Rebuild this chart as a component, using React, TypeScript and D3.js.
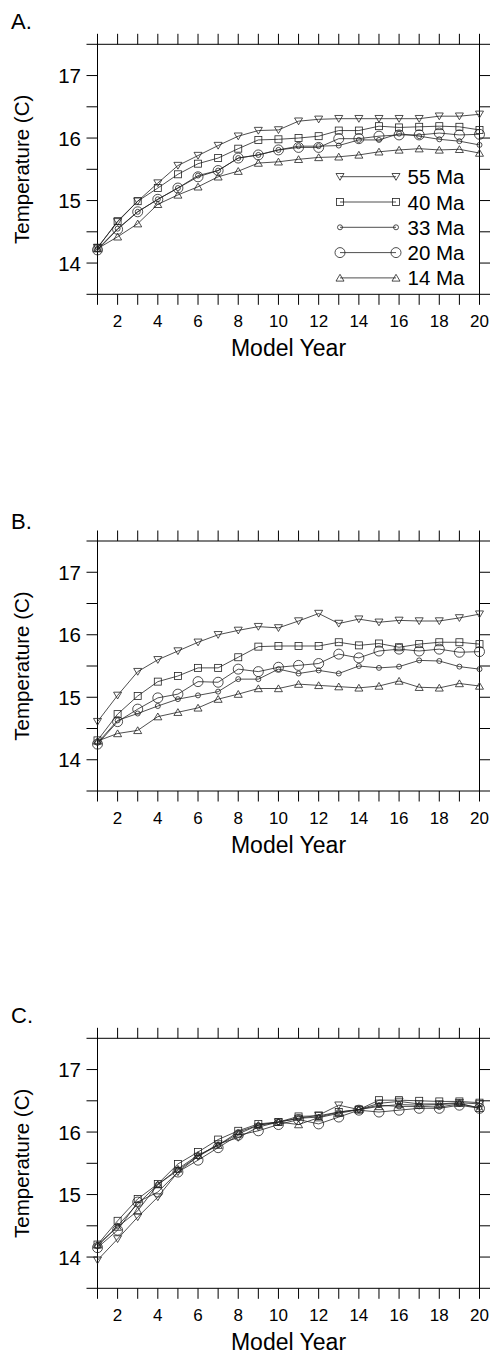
import React from "react";
import * as d3 from "d3";

const years = [1, 2, 3, 4, 5, 6, 7, 8, 9, 10, 11, 12, 13, 14, 15, 16, 17, 18, 19, 20];
const seriesNames = ["55 Ma", "40 Ma", "33 Ma", "20 Ma", "14 Ma"];
const markerTypes = ["down", "square", "smallCircle", "bigCircle", "up"];
const xTickLabels = [2, 4, 6, 8, 10, 12, 14, 16, 18, 20];
const yTickLabels = [14, 15, 16, 17];
const yMinorTicks = [13.5, 14, 14.5, 15, 15.5, 16, 16.5, 17, 17.5];
const panelLabels = ["A.", "B.", "C."];

// Panel A
const a55 = [14.25, 14.66, 14.99, 15.28, 15.56, 15.72, 15.88, 16.03, 16.12, 16.13, 16.27, 16.30, 16.31, 16.31, 16.31, 16.31, 16.31, 16.35, 16.35, 16.38];
const a40 = [14.24, 14.67, 14.99, 15.20, 15.42, 15.59, 15.68, 15.83, 15.97, 15.98, 16.00, 16.03, 16.12, 16.12, 16.19, 16.17, 16.18, 16.19, 16.18, 16.13];
const a33 = [14.22, 14.55, 14.82, 15.02, 15.20, 15.40, 15.48, 15.68, 15.73, 15.81, 15.87, 15.87, 15.88, 15.97, 15.97, 16.07, 16.03, 15.98, 15.95, 15.89];
const a20 = [14.21, 14.54, 14.82, 15.02, 15.20, 15.38, 15.48, 15.68, 15.73, 15.81, 15.85, 15.85, 15.99, 15.99, 16.03, 16.05, 16.05, 16.08, 16.05, 16.06];
const a14 = [14.23, 14.42, 14.63, 14.94, 15.09, 15.22, 15.38, 15.47, 15.60, 15.62, 15.66, 15.69, 15.70, 15.73, 15.78, 15.81, 15.83, 15.81, 15.82, 15.76];

// Panel B
const b55 = [14.61, 15.03, 15.41, 15.60, 15.74, 15.88, 16.00, 16.07, 16.13, 16.11, 16.22, 16.34, 16.18, 16.25, 16.20, 16.23, 16.22, 16.22, 16.27, 16.33];
const b40 = [14.31, 14.73, 15.02, 15.25, 15.34, 15.47, 15.47, 15.64, 15.81, 15.82, 15.82, 15.82, 15.88, 15.83, 15.86, 15.80, 15.85, 15.88, 15.88, 15.85];
const b33 = [14.27, 14.63, 14.74, 14.86, 14.97, 15.03, 15.09, 15.29, 15.29, 15.45, 15.38, 15.43, 15.38, 15.50, 15.47, 15.49, 15.59, 15.58, 15.49, 15.45];
const b20 = [14.25, 14.61, 14.81, 14.99, 15.05, 15.25, 15.24, 15.45, 15.41, 15.48, 15.51, 15.54, 15.69, 15.63, 15.74, 15.77, 15.74, 15.77, 15.72, 15.73];
const b14 = [14.30, 14.42, 14.47, 14.69, 14.76, 14.83, 14.97, 15.05, 15.14, 15.14, 15.21, 15.19, 15.17, 15.15, 15.18, 15.26, 15.16, 15.15, 15.22, 15.18];

// Panel C
const c55 = [13.95, 14.29, 14.64, 14.96, 15.36, 15.61, 15.81, 15.91, 16.08, 16.16, 16.22, 16.27, 16.43, 16.36, 16.46, 16.49, 16.45, 16.45, 16.47, 16.45];
const c40 = [14.20, 14.58, 14.93, 15.17, 15.49, 15.68, 15.88, 16.02, 16.13, 16.16, 16.25, 16.26, 16.32, 16.36, 16.51, 16.51, 16.50, 16.49, 16.49, 16.47];
const c33 = [14.17, 14.50, 14.85, 15.16, 15.39, 15.61, 15.79, 16.00, 16.11, 16.16, 16.22, 16.24, 16.32, 16.36, 16.43, 16.41, 16.41, 16.40, 16.45, 16.39];
const c20 = [14.15, 14.43, 14.88, 15.04, 15.36, 15.55, 15.75, 15.95, 16.02, 16.12, 16.20, 16.13, 16.24, 16.35, 16.32, 16.35, 16.38, 16.38, 16.43, 16.38];
const c14 = [14.20, 14.48, 14.74, 15.16, 15.41, 15.63, 15.79, 15.97, 16.11, 16.16, 16.12, 16.23, 16.30, 16.36, 16.41, 16.44, 16.43, 16.44, 16.46, 16.38];

const panels = [
  [a55, a40, a33, a20, a14],
  [b55, b40, b33, b20, b14],
  [c55, c40, c33, c20, c14],
];

const FONT = "'Liberation Sans', Arial, Helvetica, sans-serif";
const W = 490;
const H = 1356;
const left = 97.5;
const right = 479.5;
const plotH = 250;
const panelTops = [44.3, 541, 1038.3];
const labelBaselines = [28.5, 529.3, 1023];
const TICK = 10.5;
const STROKE = "#222";

function Marker({ type, x, y }: { type: string; x: number; y: number }) {
  const common = { fill: "none", stroke: STROKE, strokeWidth: 0.8 };
  if (type === "down") {
    return <path d={`M${x - 4},${y - 3.2}L${x + 4},${y - 3.2}L${x},${y + 3.6}Z`} {...common} />;
  }
  if (type === "up") {
    return <path d={`M${x - 4},${y + 3.2}L${x + 4},${y + 3.2}L${x},${y - 3.6}Z`} {...common} />;
  }
  if (type === "square") {
    return <rect x={x - 3.5} y={y - 3.5} width={7} height={7} {...common} />;
  }
  if (type === "smallCircle") {
    return <circle cx={x} cy={y} r={2.5} {...common} />;
  }
  return <circle cx={x} cy={y} r={5} {...common} />;
}

function Panel({ idx }: { idx: number }) {
  const top = panelTops[idx];
  const bottom = top + plotH;
  const x = d3.scaleLinear().domain([1, 20]).range([left, right]);
  const y = d3.scaleLinear().domain([13.5, 17.5]).range([bottom, top]);
  const line = d3
    .line<number>()
    .x((_, i) => x(years[i]))
    .y((v) => y(v));
  const data = panels[idx];

  return (
    <g>
      <text x={11} y={labelBaselines[idx]} fontSize={22} fontFamily={FONT} fill="#000">
        {panelLabels[idx]}
      </text>
      <rect x={left} y={top} width={right - left} height={plotH} fill="none" stroke="#000" strokeWidth={1} />
      {years.map((yr) => (
        <g key={"xt" + yr}>
          <line x1={x(yr)} x2={x(yr)} y1={top} y2={top - TICK} stroke="#000" strokeWidth={1} />
          <line x1={x(yr)} x2={x(yr)} y1={bottom} y2={bottom + TICK} stroke="#000" strokeWidth={1} />
        </g>
      ))}
      {xTickLabels.map((yr) => (
        <text
          key={"xl" + yr}
          x={x(yr)}
          y={bottom + 33}
          textAnchor="middle"
          fontSize={17}
          fontFamily={FONT}
          fill="#000"
        >
          {yr}
        </text>
      ))}
      {yMinorTicks.map((v) => (
        <g key={"yt" + v}>
          <line x1={left} x2={left - 11} y1={y(v)} y2={y(v)} stroke="#000" strokeWidth={1} />
          <line x1={right} x2={right + 11} y1={y(v)} y2={y(v)} stroke="#000" strokeWidth={1} />
        </g>
      ))}
      {yTickLabels.map((v) => (
        <text
          key={"yl" + v}
          x={81}
          y={y(v) + 7.5}
          textAnchor="end"
          fontSize={20.5}
          fontFamily={FONT}
          fill="#000"
        >
          {v}
        </text>
      ))}
      <text
        x={(left + right) / 2}
        y={bottom + 62}
        textAnchor="middle"
        fontSize={23}
        fontFamily={FONT}
        fill="#000"
      >
        Model Year
      </text>
      <text
        transform={`translate(28.5,${(top + bottom) / 2}) rotate(-90)`}
        textAnchor="middle"
        fontSize={20.5}
        fontFamily={FONT}
        fill="#000"
      >
        Temperature (C)
      </text>
      {data.map((vals, si) => (
        <g key={"s" + si}>
          <path d={line(vals) || ""} fill="none" stroke={STROKE} strokeWidth={0.8} />
          {vals.map((v, i) => (
            <Marker key={i} type={markerTypes[si]} x={x(years[i])} y={y(v)} />
          ))}
        </g>
      ))}
      {idx === 0 &&
        seriesNames.map((name, si) => {
          const ly = 176.7 + si * 25.3;
          return (
            <g key={"lg" + si}>
              <line x1={340} x2={396} y1={ly} y2={ly} stroke={STROKE} strokeWidth={0.8} />
              <Marker type={markerTypes[si]} x={340} y={ly} />
              <Marker type={markerTypes[si]} x={396} y={ly} />
              <text x={407.5} y={ly + 7.5} fontSize={20.5} fontFamily={FONT} fill="#000">
                {name}
              </text>
            </g>
          );
        })}
    </g>
  );
}

export default function App() {
  return (
    <svg
      width={W}
      height={H}
      style={{ position: "absolute", left: 0, top: 0, background: "#fff" }}
      xmlns="http://www.w3.org/2000/svg"
    >
      <rect x={0} y={0} width={W} height={H} fill="#fff" />
      {[0, 1, 2].map((i) => (
        <Panel key={i} idx={i} />
      ))}
    </svg>
  );
}
